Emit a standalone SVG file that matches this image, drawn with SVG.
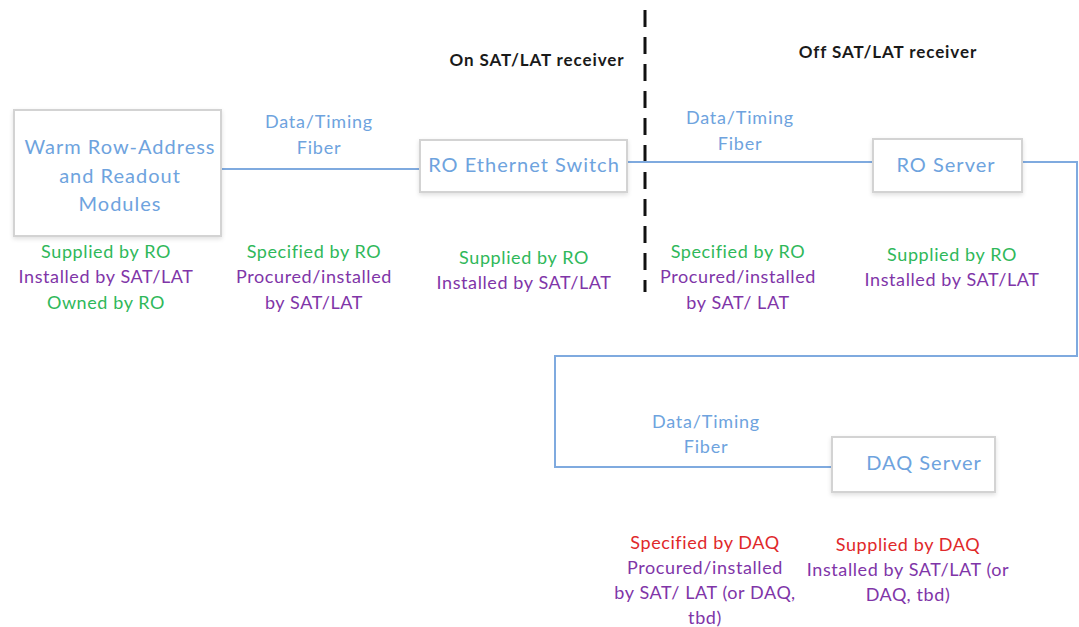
<svg xmlns="http://www.w3.org/2000/svg" width="1079" height="627" viewBox="0 0 1079 627">
  <defs>
    <filter id="shadow" x="-10%" y="-10%" width="120%" height="130%">
      <feDropShadow dx="0" dy="2" stdDeviation="2" flood-color="#000" flood-opacity="0.12"/>
    </filter>
    <style>
      text { font-family: Lato, "Liberation Sans", sans-serif; text-anchor: middle; }
      .box { fill: #ffffff; stroke: #d3d3d3; stroke-width: 2; filter: url(#shadow); }
      .boxlabel { fill: #6ea3de; font-size: 20px; letter-spacing: 1px; }
      .link { fill: none; stroke: #7faadf; stroke-width: 2; }
      .linklabel { fill: #6ea3de; font-size: 18px; letter-spacing: 0.8px; }
      .zone { fill: #1a1a1a; font-size: 17px; font-weight: bold; letter-spacing: 0.9px; }
      .green { fill: #2fb85a; font-size: 18px; letter-spacing: 0.6px; }
      .purple { fill: #8035a8; font-size: 18px; letter-spacing: 0.6px; }
      .red { fill: #e0282a; font-size: 18px; letter-spacing: 0.6px; }
      .divider { stroke: #111; stroke-width: 3; stroke-dasharray: 17 10; }
    </style>
  </defs>

  <!-- boundary between receiver and off-receiver equipment -->
  <line class="divider" x1="645" y1="10" x2="645" y2="292"/>
  <text class="zone" x="537" y="66">On SAT/LAT receiver</text>
  <text class="zone" x="888" y="58">Off SAT/LAT receiver</text>

  <!-- fiber connections -->
  <g id="connectors">
    <line class="link" x1="221" y1="169" x2="420" y2="169"/>
    <line class="link" x1="627" y1="162" x2="873" y2="162"/>
    <polyline class="link" points="1022,162 1077,162 1077,356 555,356 555,467 833,467"/>
    <text class="linklabel" x="319" y="128">Data/Timing</text>
    <text class="linklabel" x="319" y="154">Fiber</text>
    <text class="linklabel" x="740" y="124">Data/Timing</text>
    <text class="linklabel" x="740" y="150">Fiber</text>
    <text class="linklabel" x="706" y="428">Data/Timing</text>
    <text class="linklabel" x="706" y="453">Fiber</text>
  </g>

  <g id="warm-modules">
    <rect class="box" x="14" y="110" width="207" height="126"/>
    <text class="boxlabel" x="120" y="154">Warm Row-Address</text>
    <text class="boxlabel" x="120" y="183">and Readout</text>
    <text class="boxlabel" x="120" y="211">Modules</text>
  </g>

  <g id="ethernet-switch">
    <rect class="box" x="420" y="140" width="207" height="52"/>
    <text class="boxlabel" x="524" y="172">RO Ethernet Switch</text>
  </g>

  <g id="ro-server">
    <rect class="box" x="873" y="139" width="149" height="53"/>
    <text class="boxlabel" x="946" y="172">RO Server</text>
  </g>

  <g id="daq-server">
    <rect class="box" x="832" y="437" width="163" height="55"/>
    <text class="boxlabel" x="924" y="470">DAQ Server</text>
  </g>

  <!-- responsibility notes -->
  <g id="note-modules">
    <text class="green" x="106" y="258">Supplied by RO</text>
    <text class="purple" x="106" y="283">Installed by SAT/LAT</text>
    <text class="green" x="106" y="309">Owned by RO</text>
  </g>
  <g id="note-fiber-1">
    <text class="green" x="314" y="258">Specified by RO</text>
    <text class="purple" x="314" y="283">Procured/installed</text>
    <text class="purple" x="314" y="309">by SAT/LAT</text>
  </g>
  <g id="note-switch">
    <text class="green" x="524" y="264">Supplied by RO</text>
    <text class="purple" x="524" y="289">Installed by SAT/LAT</text>
  </g>
  <g id="note-fiber-2">
    <text class="green" x="738" y="258">Specified by RO</text>
    <text class="purple" x="738" y="283">Procured/installed</text>
    <text class="purple" x="738" y="309">by SAT/ LAT</text>
  </g>
  <g id="note-ro-server">
    <text class="green" x="952" y="261">Supplied by RO</text>
    <text class="purple" x="952" y="286">Installed by SAT/LAT</text>
  </g>
  <g id="note-fiber-3">
    <text class="red" x="705" y="549">Specified by DAQ</text>
    <text class="purple" x="705" y="574">Procured/installed</text>
    <text class="purple" x="705" y="599">by SAT/ LAT (or DAQ,</text>
    <text class="purple" x="705" y="624">tbd)</text>
  </g>
  <g id="note-daq-server">
    <text class="red" x="908" y="551">Supplied by DAQ</text>
    <text class="purple" x="908" y="576">Installed by SAT/LAT (or</text>
    <text class="purple" x="908" y="601">DAQ, tbd)</text>
  </g>
</svg>
